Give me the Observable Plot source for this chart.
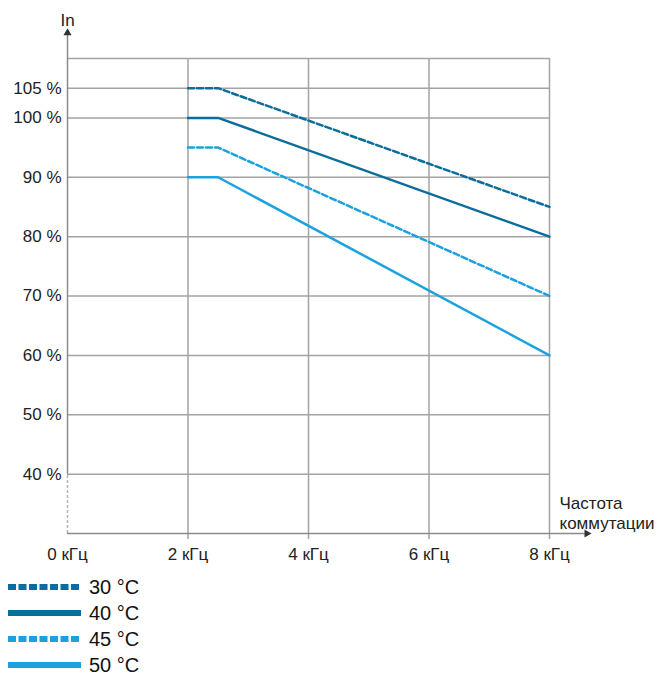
<!DOCTYPE html>
<html>
<head>
<meta charset="utf-8">
<script src="https://cdn.jsdelivr.net/npm/d3@7"></script>
<script src="https://cdn.jsdelivr.net/npm/@observablehq/plot@0.6"></script>
<style>
  body { margin: 0; background: #fff; font-family: "Liberation Sans", Arial, sans-serif; overflow: hidden; }
  #legend { margin-top: 0px; }
  .row { display: flex; align-items: center; height: 26px; }
  .row svg { margin-left: 8px; margin-right: 8px; }
  .row span { font-size: 20px; line-height: 22px; color: #111; }
</style>
</head>
<body>
<div id="chart"></div>
<div id="legend"></div>
<script>
// ---- data ----
const freq = [2, 2.5, 8];            // kHz
const s30 = [105, 105, 85];
const s40 = [100, 100, 80];
const s45 = [95, 95, 70];
const s50 = [90, 90, 60];
const seriesNames = ["30 °C", "40 °C", "45 °C", "50 °C"];
const seriesValues = [s30, s40, s45, s50];
const seriesColors = ["#0b6d9b", "#0b6d9b", "#1ba2de", "#1ba2de"];
const seriesDashed = [true, false, true, false];

const xTicks = [0, 2, 4, 6, 8];
const xTickLabels = ["0 кГц", "2 кГц", "4 кГц", "6 кГц", "8 кГц"];
const xGrid = [2, 4, 6, 8];
const yTicks = [40, 50, 60, 70, 80, 90, 100, 105];
const yTickLabels = ["40 %", "50 %", "60 %", "70 %", "80 %", "90 %", "100 %", "105 %"];
const yGrid = [40, 50, 60, 70, 80, 90, 100, 105, 110];
const yLabel = "In";
const xLabel = "Частота\nкоммутации";

const gridColor = "#a3a3a3";
const axisColor = "#8a8a8a";

const lineMarks = seriesNames.map((name, i) => {
  const rows = freq.map((f, j) => ({f, v: seriesValues[i][j], series: name}));
  return Plot.line(rows, {
    x: "f", y: "v",
    stroke: seriesColors[i],
    strokeWidth: 2.5,
    strokeDasharray: seriesDashed[i] ? "6,3" : null
  });
});

const chart = Plot.plot({
  width: 657,
  height: 574,
  marginLeft: 67,
  marginRight: 108,
  marginTop: 58,
  marginBottom: 41,
  x: {domain: [0, 8]},
  y: {domain: [30, 110]},
  style: {fontFamily: '"Liberation Sans", Arial, sans-serif', fontSize: "17px", color: "#222", background: "#fff", overflow: "visible"},
  marks: [
    Plot.ruleY(yGrid, {x1: 0, x2: 8, stroke: gridColor, strokeWidth: 1.5}),
    Plot.ruleX(xGrid, {y1: 30, y2: 110, stroke: gridColor, strokeWidth: 1.5}),
    Plot.axisX(xGrid, {tickSize: 6, tickFormat: () => "", stroke: gridColor, strokeWidth: 1.5, label: null}),
    Plot.axisX(xTicks, {tickSize: 0, tickPadding: 14, tickFormat: d => xTickLabels[xTicks.indexOf(d)], label: null, fill: "#222"}),
    Plot.axisY(yTicks, {tickSize: 0, tickPadding: 6, tickFormat: d => yTickLabels[yTicks.indexOf(d)], label: null, fill: "#222"}),
    // y axis line with arrow
    Plot.ruleX([0], {y1: 40, y2: 114.5, stroke: axisColor, strokeWidth: 1.5}),
    Plot.ruleX([0], {y1: 30, y2: 40, stroke: "#b5b5b5", strokeWidth: 1.5, strokeDasharray: "3,2"}),
    Plot.dot([0], {x: d => d, y: 114.3, symbol: "triangle", r: 3, fill: "#333", stroke: null}),
    // x axis line with arrow
    Plot.ruleY([30], {x1: 0, x2: 8.65, stroke: axisColor, strokeWidth: 1.5}),
    Plot.dot([30], {x: 8.62, y: d => d, symbol: "triangle", r: 3, rotate: 90, fill: "#333", stroke: null}),
    ...lineMarks,
    Plot.text([yLabel], {x: 0, y: 110, text: d => d, dy: -38, textAnchor: "middle", fill: "#222"}),
    Plot.text([xLabel], {x: 8, y: 30, text: d => d, dx: 10, dy: -5, textAnchor: "start", lineAnchor: "bottom", lineHeight: 1.15, fill: "#222"})
  ]
});
document.getElementById("chart").appendChild(chart);

// legend
const legend = d3.select("#legend");
seriesNames.forEach((name, i) => {
  const row = legend.append("div").attr("class", "row");
  const svg = row.append("svg").attr("width", 73).attr("height", 8);
  svg.append("line")
    .attr("x1", 0).attr("x2", 73).attr("y1", 4).attr("y2", 4)
    .attr("stroke", seriesColors[i]).attr("stroke-width", 6)
    .attr("stroke-dasharray", seriesDashed[i] ? "8,2.5" : null);
  row.append("span").text(name);
});
</script>
</body>
</html>
